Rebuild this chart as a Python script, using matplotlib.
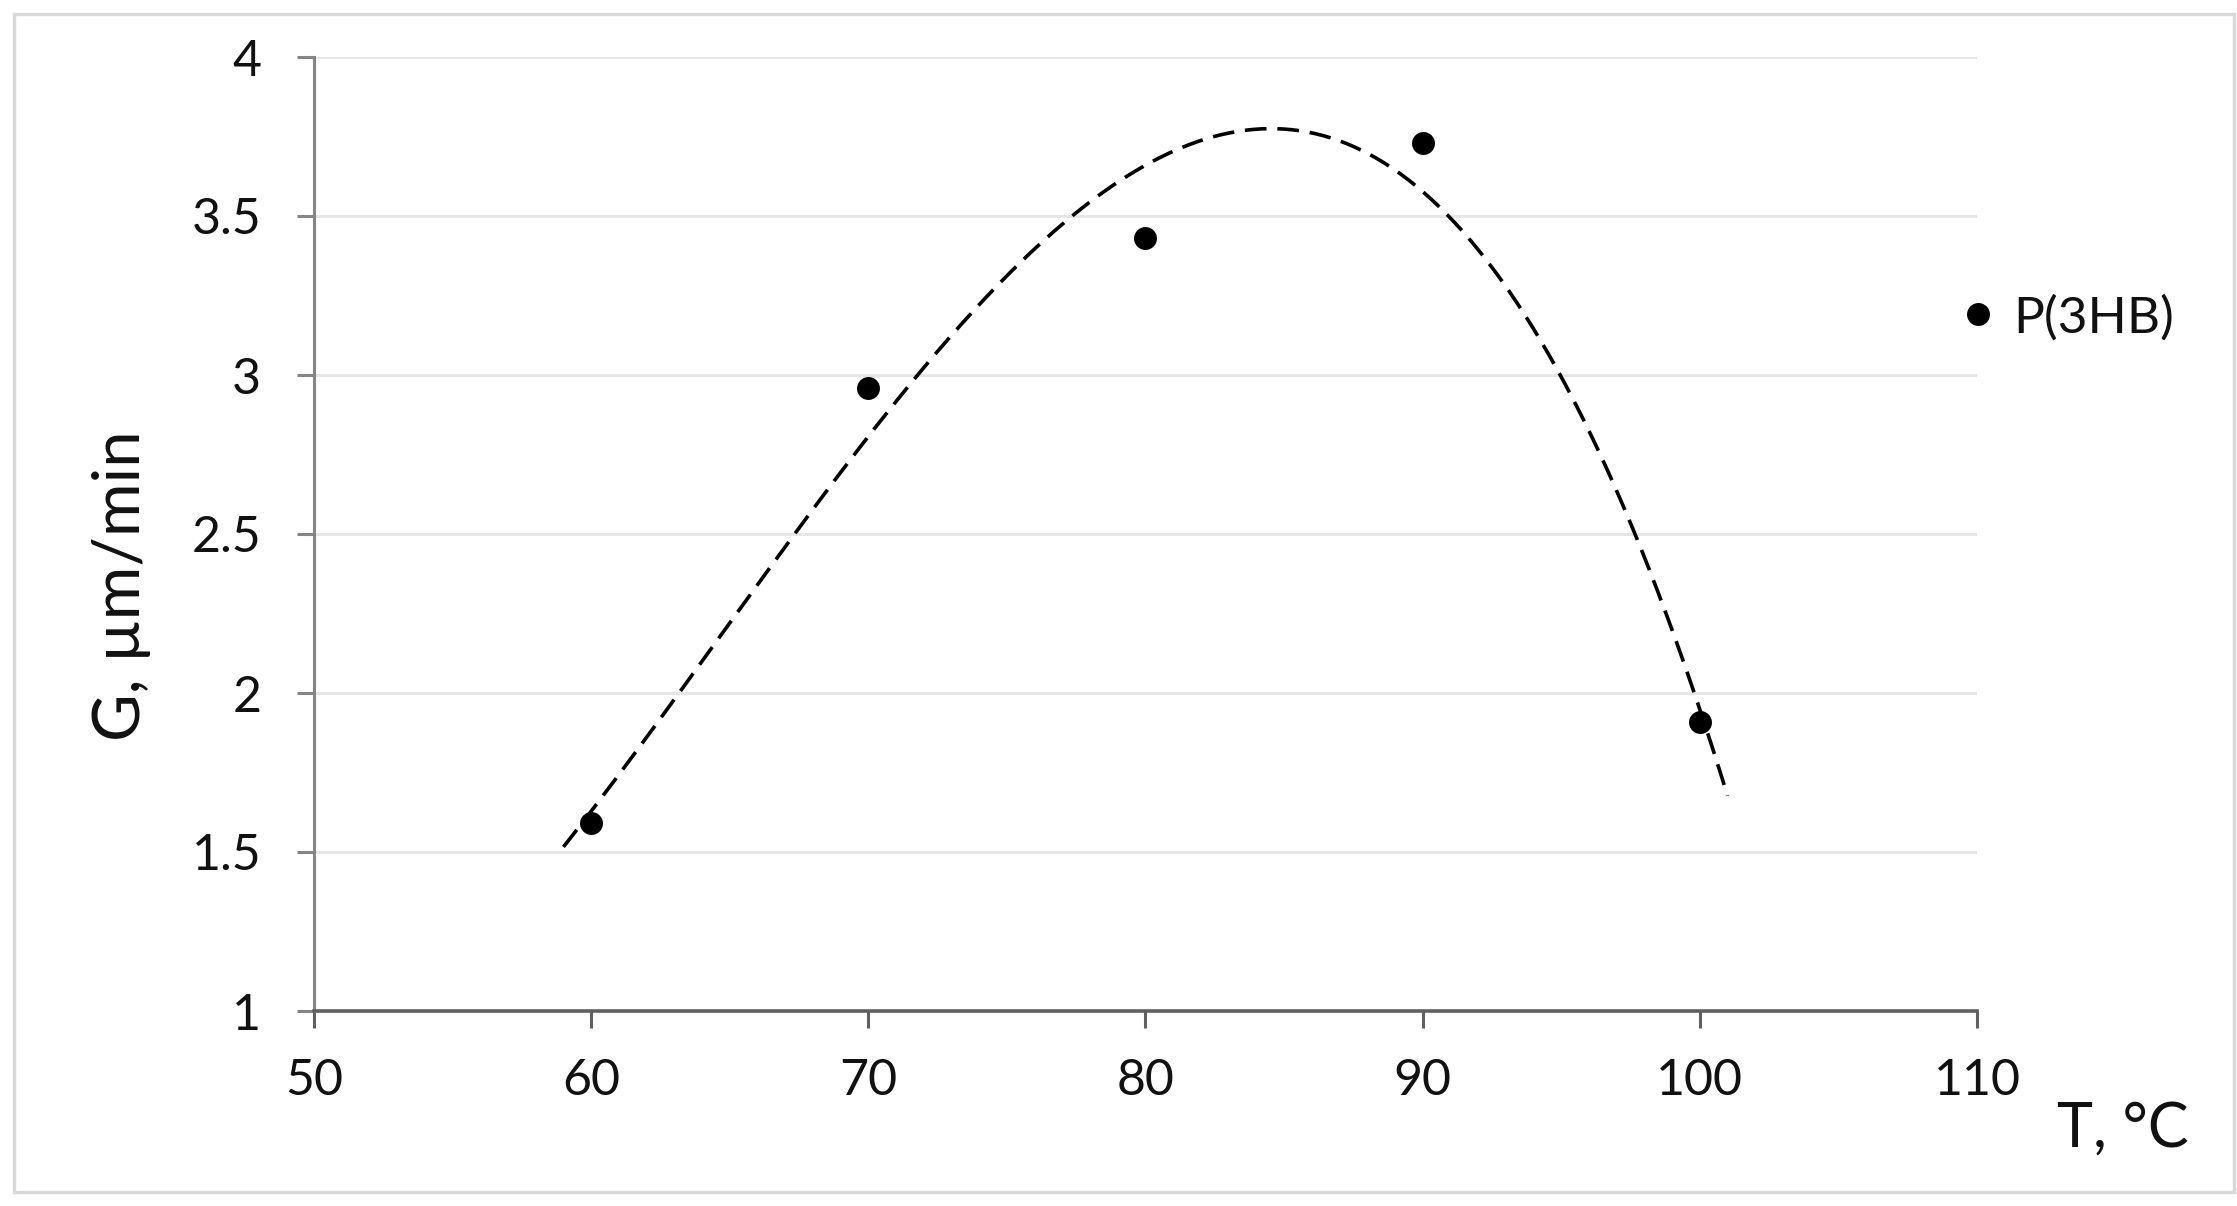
"""
Growth rate G of P(3HB) spherulites vs crystallisation temperature,
with a cubic trendline (Excel-style, extended 1 degree each side).
Writes out.png.
"""

import matplotlib
matplotlib.use("Agg")

import matplotlib.pyplot as plt
import numpy as np
from matplotlib.lines import Line2D
from matplotlib.patches import Rectangle

# measured points
temperature = [60, 70, 80, 90, 100]
growth_rate = [1.59, 2.96, 3.43, 3.73, 1.91]
series_label = "P(3HB)"

x_ticks = [50, 60, 70, 80, 90, 100, 110]
y_ticks = [1, 1.5, 2, 2.5, 3, 3.5, 4]
y_tick_labels = ["1", "1.5", "2", "2.5", "3", "3.5", "4"]

TREND_ORDER = 3
TREND_FORWARD = 1
TREND_BACKWARD = 1

GRID_COLOR = "#e6e6e6"
LEFT_AXIS_COLOR = "#858585"
BOTTOM_AXIS_COLOR = "#606060"
FRAME_COLOR = "#d9d9d9"
TEXT_COLOR = "#111111"

plt.rcParams["font.family"] = ["Lato", "DejaVu Sans"]

W, H = 2237, 1206
AX_LEFT, AX_RIGHT, AX_TOP, AX_BOTTOM = 314, 1977, 57, 1011  # pixels
fig = plt.figure(figsize=(W / 100, H / 100), dpi=100)
ax = fig.add_axes([AX_LEFT / W, 1 - AX_BOTTOM / H,
                   (AX_RIGHT - AX_LEFT) / W, (AX_BOTTOM - AX_TOP) / H])

# trendline
coeffs = np.polyfit(temperature, growth_rate, TREND_ORDER)
t_fit = np.linspace(min(temperature) - TREND_BACKWARD, max(temperature) + TREND_FORWARD, 300)
ax.plot(t_fit, np.polyval(coeffs, t_fit), color="black", lw=2.6,
        linestyle=(0, (6, 3)), zorder=3)

ax.plot(temperature, growth_rate, "o", color="black", markersize=16.5,
        markeredgewidth=0, zorder=4)

ax.set_xlim(50, 110)
ax.set_ylim(1, 4)
ax.set_xticks(x_ticks, [str(t) for t in x_ticks])
ax.set_yticks(y_ticks, y_tick_labels)

for y in y_ticks[1:]:
    ax.axhline(y, color=GRID_COLOR, lw=2.2, zorder=1)

ax.spines[["top", "right"]].set_visible(False)
ax.spines["left"].set_color(LEFT_AXIS_COLOR)
ax.spines["left"].set_linewidth(2.2)
ax.spines["bottom"].set_color(BOTTOM_AXIS_COLOR)
ax.spines["bottom"].set_linewidth(2.6)
ax.spines["bottom"].set_zorder(5)

ax.tick_params(axis="y", length=12, width=2.2, color=LEFT_AXIS_COLOR,
               pad=26, labelsize=36, labelcolor=TEXT_COLOR)
ax.tick_params(axis="x", length=12, width=2.2, color=BOTTOM_AXIS_COLOR,
               pad=22, labelsize=36, labelcolor=TEXT_COLOR)

ax.set_xlabel("T, °C", fontsize=44, color=TEXT_COLOR, ha="left", va="baseline")
ax.xaxis.set_label_coords((2057 - AX_LEFT) / (AX_RIGHT - AX_LEFT),
                          (AX_BOTTOM - 1147) / (AX_BOTTOM - AX_TOP))

fig.text(122 / W, 1 - 586 / H, "G, µm/min", rotation=90, fontsize=47,
         color=TEXT_COLOR, ha="center", va="center")

handle = Line2D([], [], marker="o", color="black", linestyle="none",
                markersize=16.5, markeredgewidth=0)
fig.legend([handle], [series_label], loc="center left",
           bbox_to_anchor=(1952 / W, 1 - 318 / H), frameon=False,
           borderpad=0, borderaxespad=0, handlelength=1.0,
           handletextpad=0.2, fontsize=37, labelcolor=TEXT_COLOR)

fig.patches.append(Rectangle((14 / W, 14 / H), (2234 - 14) / W, (1192 - 14) / H,
                             transform=fig.transFigure, fill=False,
                             edgecolor=FRAME_COLOR, lw=2.5))

fig.savefig("out.png", dpi=100)
